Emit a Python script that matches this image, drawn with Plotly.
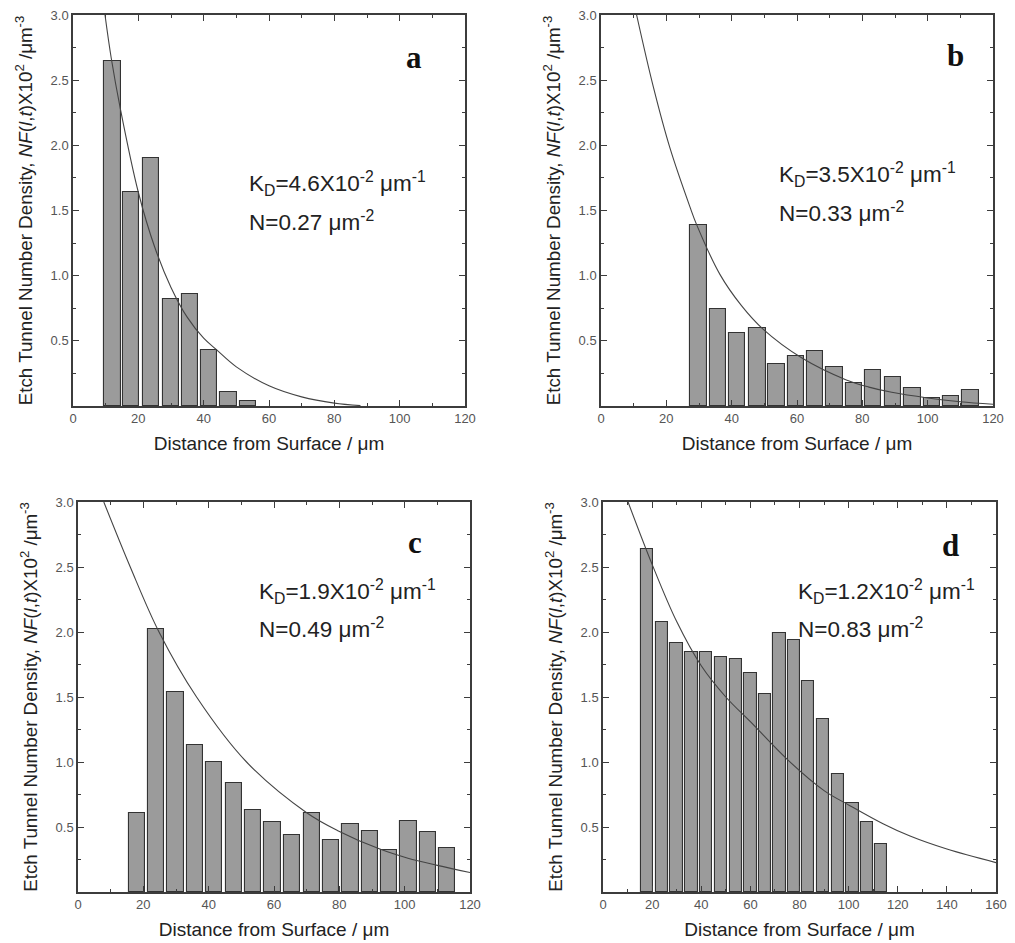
import plotly.graph_objects as go

# ---------------- data ----------------
a_x = [12.1, 17.8, 23.9, 29.9, 35.8, 41.6, 47.6, 53.5]
a_y = [2.65, 1.645, 1.90, 0.82, 0.86, 0.43, 0.11, 0.036]
a_fit_x = [9.8, 11.7, 14.5, 20, 25, 30, 35, 40, 44, 50, 60, 70, 80, 88]
a_fit_y = [3.0, 2.67, 2.28, 1.64, 1.22, 0.91, 0.68, 0.52, 0.43, 0.30, 0.155, 0.07, 0.022, 0.003]

b_x = [29.8, 35.9, 41.7, 47.9, 53.7, 59.7, 65.5, 71.5, 77.4, 83.3, 89.3, 95.4, 101.3, 107.1, 113.1]
b_y = [1.386, 0.742, 0.563, 0.60, 0.32, 0.384, 0.42, 0.30, 0.18, 0.28, 0.22, 0.14, 0.06, 0.08, 0.12]
b_fit_x = [10.9, 16.0, 21.1, 27.2, 29.3, 36.4, 43, 49.6, 61.4, 75.1, 82, 89, 100, 110, 120]
b_fit_y = [3.0, 2.45, 1.98, 1.53, 1.39, 1.01, 0.77, 0.59, 0.37, 0.20, 0.145, 0.105, 0.062, 0.033, 0.013]

c_x = [18.0, 23.9, 29.8, 35.9, 41.7, 47.7, 53.6, 59.5, 65.5, 71.6, 77.5, 83.4, 89.3, 95.3, 101.2, 107.1, 113.0]
c_y = [0.61, 2.02, 1.54, 1.13, 1.00, 0.84, 0.63, 0.54, 0.44, 0.61, 0.40, 0.52, 0.47, 0.32, 0.55, 0.46, 0.34]
c_fit_x = [7.9, 16.0, 24.8, 36.3, 51.6, 70, 79.7, 92.4, 101, 110, 120]
c_fit_y = [3.0, 2.5, 2.0, 1.5, 1.0, 0.61, 0.47, 0.33, 0.26, 0.205, 0.15]

d_x = [18.0, 23.9, 29.9, 36.0, 42.0, 48.0, 54.0, 60.0, 66.0, 71.8, 77.7, 83.6, 89.6, 95.6, 101.6, 107.5, 113.3]
d_y = [2.64, 2.08, 1.915, 1.85, 1.85, 1.81, 1.79, 1.685, 1.52, 1.995, 1.94, 1.62, 1.33, 0.91, 0.685, 0.536, 0.367]
d_fit_x = [10.2, 20, 30, 40, 50, 60, 75, 90, 100, 114, 125, 140, 160]
d_fit_y = [3.0, 2.52, 2.08, 1.74, 1.50, 1.31, 1.02, 0.78, 0.67, 0.525, 0.43, 0.33, 0.226]

panel_letters = ["a", "b", "c", "d"]
kd_values = ["4.6", "3.5", "1.9", "1.2"]
n_values = ["0.27", "0.33", "0.49", "0.83"]
x_max = [120, 120, 120, 160]
x_tickvals = [[0, 20, 40, 60, 80, 100, 120]] * 3 + [[0, 20, 40, 60, 80, 100, 120, 140, 160]]
y_tickvals = [0.5, 1.0, 1.5, 2.0, 2.5, 3.0]
y_ticktext = ["0.5", "1.0", "1.5", "2.0", "2.5", "3.0"]

bars = [(a_x, a_y), (b_x, b_y), (c_x, c_y), (d_x, d_y)]
fits = [(a_fit_x, a_fit_y), (b_fit_x, b_fit_y), (c_fit_x, c_fit_y), (d_fit_x, d_fit_y)]

# ---------------- layout geometry (pixels) ----------------
W, H = 1015, 943
boxes = [(73, 465, 15, 406), (601, 993, 15, 406), (78, 470, 502, 892), (603, 996, 502, 892)]
letter_pos = [(414, 57), (955, 55), (415, 542), (950, 545)]
text_pos = [(247, 183, 221), (777, 174, 212), (257, 591, 628), (796, 591, 628)]

AX = "#3c3c3c"
FONT = "Liberation Sans, Arial, sans-serif"

fig = go.Figure()
layout = dict(
    width=W, height=H, margin=dict(l=0, r=0, t=0, b=0, autoexpand=False),
    paper_bgcolor="white", plot_bgcolor="white", showlegend=False,
    font=dict(family=FONT, color="#222"),
)
annotations = []
ytitle = ("Etch Tunnel Number Density, <i>NF</i>(<i>l</i>,<i>t</i>)X10<sup>2</sup> /μm<sup>-3</sup>")

for i in range(4):
    sfx = "" if i == 0 else str(i + 1)
    xa, ya = "x" + sfx, "y" + sfx
    x0, x1, y0, y1 = boxes[i]
    bx, by = bars[i]
    fx, fy = fits[i]
    fig.add_trace(go.Bar(x=bx, y=by, width=5.0, xaxis=xa, yaxis=ya,
                         marker=dict(color="#9b9b9b", line=dict(color="#333333", width=1.1))))
    fig.add_trace(go.Scatter(x=fx, y=fy, mode="lines", xaxis=xa, yaxis=ya,
                             line=dict(color="#444444", width=1.1, shape="spline", smoothing=1.0)))
    tv = x_tickvals[i]
    layout["xaxis" + sfx] = dict(
        domain=[x0 / W, x1 / W], anchor=ya, range=[0, x_max[i]], automargin=False,
        tickmode="array", tickvals=tv, ticktext=[str(v) for v in tv],
        ticks="inside", ticklen=6, tickwidth=1.2, tickcolor=AX,
        minor=dict(tickmode="linear", tick0=0, dtick=10, ticks="inside", ticklen=3.5, tickcolor=AX),
        showline=True, linecolor=AX, linewidth=1.5, mirror="ticks",
        showgrid=False, zeroline=False,
        tickfont=dict(size=13, color="#555555", family=FONT),
        title=dict(text="Distance from Surface / μm", standoff=11,
                   font=dict(size=19, color="#222222", family=FONT)),
    )
    layout["yaxis" + sfx] = dict(
        domain=[1 - y1 / H, 1 - y0 / H], anchor=xa, range=[0, 3.0], automargin=False,
        tickmode="array", tickvals=y_tickvals, ticktext=y_ticktext,
        ticks="inside", ticklen=6, tickwidth=1.2, tickcolor=AX,
        minor=dict(tickmode="linear", tick0=0, dtick=0.25, ticks="inside", ticklen=3.5, tickcolor=AX),
        showline=True, linecolor=AX, linewidth=1.5, mirror="ticks",
        showgrid=False, zeroline=False,
        tickfont=dict(size=13, color="#555555", family=FONT),
        title=dict(text=ytitle, standoff=13, font=dict(size=18.8, color="#222222", family=FONT)),
    )
    lx, ly = letter_pos[i]
    annotations.append(dict(x=lx / W, y=1 - ly / H, xref="paper", yref="paper",
                            text="<b>%s</b>" % panel_letters[i], showarrow=False,
                            xanchor="center", yanchor="middle",
                            font=dict(size=31, family="Liberation Serif, Times New Roman, serif", color="#111")))
    tx, t1, t2 = text_pos[i]
    annotations.append(dict(x=tx / W, y=1 - t1 / H, xref="paper", yref="paper",
                            text="K<sub>D</sub>=%sX10<sup>-2</sup> μm<sup>-1</sup>" % kd_values[i],
                            showarrow=False, xanchor="left", yanchor="middle",
                            font=dict(size=22.5, family=FONT, color="#222")))
    annotations.append(dict(x=tx / W, y=1 - t2 / H, xref="paper", yref="paper",
                            text="N=%s μm<sup>-2</sup>" % n_values[i],
                            showarrow=False, xanchor="left", yanchor="middle",
                            font=dict(size=22.5, family=FONT, color="#222")))

layout["annotations"] = annotations
layout["bargap"] = 0
fig.update_layout(**layout)
fig.write_html("out.html", config={"displayModeBar": False},
               post_script="document.body.style.margin='0';document.body.style.overflow='hidden';")
